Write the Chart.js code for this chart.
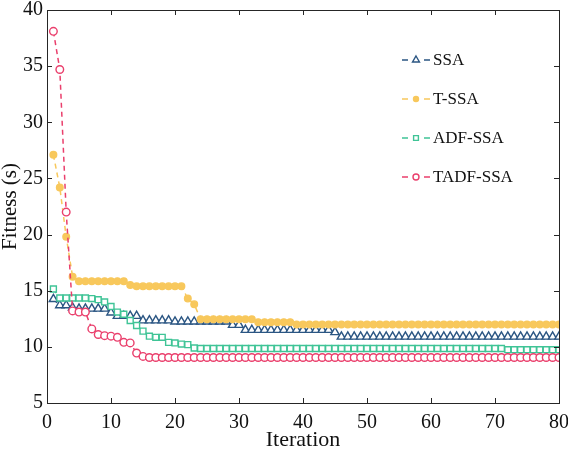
<!DOCTYPE html>
<html>
<head>
<meta charset="utf-8">
<script src="https://cdn.jsdelivr.net/npm/chart.js@4"></script>
<style>
  body { margin: 0; background: #fff; }
  #wrap { width: 568px; height: 452px; }
</style>
</head>
<body>
<div id="wrap"><canvas id="myChart" width="568" height="452"></canvas></div>
<script>
// iterations 1..80
var iterations = [];
for (var i = 1; i <= 80; i++) iterations.push(i);

var seriesNames = ['SSA', 'T-SSA', 'ADF-SSA', 'TADF-SSA'];

var ssa = [14.25,13.7,13.7,13.5,13.4,13.4,13.4,13.4,13.4,13.05,
  12.75,12.75,12.75,12.75,12.35,12.35,12.35,12.35,12.35,12.25,
  12.25,12.25,12.25,12.25,12.25,12.25,12.25,12.25,11.95,11.95,
  11.5,11.5,11.5,11.5,11.5,11.5,11.5,11.5,11.5,11.5,
  11.5,11.5,11.5,11.5,11.3,10.9,10.9,10.9,10.9,10.9,
  10.9,10.9,10.9,10.9,10.9,10.9,10.9,10.9,10.9,10.9,
  10.9,10.9,10.9,10.9,10.9,10.9,10.9,10.9,10.9,10.9,
  10.9,10.9,10.9,10.9,10.9,10.9,10.9,10.9,10.9,10.9];

var tssa = [27.1,24.2,19.8,16.25,15.85,15.85,15.85,15.85,15.85,15.85,
  15.85,15.85,15.5,15.4,15.4,15.4,15.4,15.4,15.4,15.4,
  15.4,14.3,13.8,12.45,12.45,12.45,12.45,12.45,12.45,12.45,
  12.45,12.45,12.2,12.2,12.2,12.2,12.2,12.2,12.0,12.0,
  12.0,12.0,12.0,12.0,12.0,12.0,12.0,12.0,12.0,12.0,
  12.0,12.0,12.0,12.0,12.0,12.0,12.0,12.0,12.0,12.0,
  12.0,12.0,12.0,12.0,12.0,12.0,12.0,12.0,12.0,12.0,
  12.0,12.0,12.0,12.0,12.0,12.0,12.0,12.0,12.0,12.0];

var adfssa = [15.15,14.35,14.35,14.35,14.35,14.35,14.3,14.2,14.0,13.6,
  13.1,12.9,12.35,11.9,11.4,10.95,10.85,10.85,10.4,10.35,
  10.25,10.2,9.9,9.85,9.85,9.85,9.85,9.85,9.85,9.85,
  9.85,9.85,9.85,9.85,9.85,9.85,9.85,9.85,9.85,9.85,
  9.85,9.85,9.85,9.85,9.85,9.85,9.85,9.85,9.85,9.85,
  9.85,9.85,9.85,9.85,9.85,9.85,9.85,9.85,9.85,9.85,
  9.85,9.85,9.85,9.85,9.85,9.85,9.85,9.85,9.85,9.85,
  9.85,9.75,9.75,9.75,9.75,9.75,9.75,9.75,9.75,9.75];

var tadfssa = [38.1,34.7,22.0,13.2,13.1,13.1,11.6,11.1,11.0,10.95,
  10.85,10.4,10.35,9.45,9.15,9.05,9.05,9.05,9.05,9.05,
  9.05,9.05,9.05,9.05,9.05,9.05,9.05,9.05,9.05,9.05,
  9.05,9.05,9.05,9.05,9.05,9.05,9.05,9.05,9.05,9.05,
  9.05,9.05,9.05,9.05,9.05,9.05,9.05,9.05,9.05,9.05,
  9.05,9.05,9.05,9.05,9.05,9.05,9.05,9.05,9.05,9.05,
  9.05,9.05,9.05,9.05,9.05,9.05,9.05,9.05,9.05,9.05,
  9.05,9.05,9.05,9.05,9.05,9.05,9.05,9.05,9.05,9.05];

var xTicks = [0,10,20,30,40,50,60,70,80];
var yTicks = [5,10,15,20,25,30,35,40];

var serif = "'Liberation Serif', 'Times New Roman', serif";
var axisColor = '#262626';

function pts(vals){
  return vals.map(function(v, k){ return {x: iterations[k], y: v}; });
}

function makeSet(label, vals, color, style, fill, radius, order){
  return {
    label: label,
    data: pts(vals),
    borderColor: color,
    backgroundColor: color,
    borderWidth: 1.5,
    borderDash: [5,4],
    pointStyle: style,
    pointRadius: radius,
    pointBackgroundColor: fill,
    pointBorderColor: color,
    pointBorderWidth: 1.4,
    fill: false,
    tension: 0,
    order: order
  };
}

// box, inward ticks and legend
var frame = {
  id: 'frame',
  afterDraw: function(chart){
    var ctx = chart.ctx;
    var a = chart.chartArea;
    var xs = chart.scales.x, ys = chart.scales.y;
    ctx.save();
    ctx.strokeStyle = axisColor;
    ctx.lineWidth = 1;
    ctx.strokeRect(a.left + 0.5, a.top + 0.5, a.right - a.left, a.bottom - a.top);
    ctx.beginPath();
    xTicks.forEach(function(t){
      var px = Math.round(xs.getPixelForValue(t)) + 0.5;
      ctx.moveTo(px, a.bottom); ctx.lineTo(px, a.bottom - 5);
      ctx.moveTo(px, a.top); ctx.lineTo(px, a.top + 5);
    });
    yTicks.forEach(function(t){
      var py = Math.round(ys.getPixelForValue(t)) + 0.5;
      ctx.moveTo(a.left, py); ctx.lineTo(a.left + 5, py);
      ctx.moveTo(a.right, py); ctx.lineTo(a.right - 5, py);
    });
    ctx.stroke();

    // legend
    var lx = 402, ly = 60, gap = 39;
    chart.data.datasets.forEach(function(ds, k){
      var y = ly + k * gap;
      ctx.strokeStyle = ds.borderColor;
      ctx.lineWidth = 1.5;
      ctx.setLineDash([]);
      ctx.beginPath();
      ctx.moveTo(lx, y); ctx.lineTo(lx + 6, y);
      ctx.moveTo(lx + 22, y); ctx.lineTo(lx + 28, y);
      ctx.stroke();
      ctx.fillStyle = ds.pointBackgroundColor;
      ctx.strokeStyle = ds.pointBorderColor;
      ctx.lineWidth = ds.pointBorderWidth;
      Chart.helpers.drawPoint(ctx, {
        pointStyle: ds.pointStyle, radius: ds.pointRadius - 0.8, rotation: 0,
        borderWidth: ds.pointBorderWidth
      }, lx + 14, y);
      ctx.fillStyle = '#111';
      ctx.font = '17px ' + serif;
      ctx.textAlign = 'left';
      ctx.textBaseline = 'middle';
      ctx.fillText(ds.label, lx + 31, y + 1);
    });
    ctx.restore();
  }
};

var config = {
  type: 'line',
  data: {
    datasets: [
      makeSet(seriesNames[0], ssa, '#2b5683', 'triangle', '#ffffff', 4.8, 3),
      makeSet(seriesNames[1], tssa, '#f8c85c', 'circle', '#f8c85c', 3.3, 2),
      makeSet(seriesNames[2], adfssa, '#3fc496', 'rect', '#ffffff', 4.2, 1),
      makeSet(seriesNames[3], tadfssa, '#ea3f6c', 'circle', '#ffffff', 3.8, 0)
    ]
  },
  options: {
    responsive: false,
    animation: false,
    layout: { padding: { top: 10, right: 9, left: 0, bottom: 0 } },
    plugins: {
      legend: { display: false },
      tooltip: { enabled: false }
    },
    scales: {
      x: {
        type: 'linear',
        min: 0, max: 80,
        afterBuildTicks: function(s){ s.ticks = xTicks.map(function(v){ return {value: v}; }); },
        afterFit: function(s){ s.height = 49; s.paddingLeft = 0; s.paddingRight = 0; },
        grid: { display: true, drawOnChartArea: false, drawTicks: true, tickLength: 8, color: 'rgba(0,0,0,0)' },
        border: { display: false },
        ticks: { color: '#111', font: { family: serif, size: 20 }, padding: 0, maxRotation: 0 },
        title: { display: true, text: 'Iteration', color: '#111', font: { family: serif, size: 22, lineHeight: 1 }, padding: { top: 0, bottom: 1 } }
      },
      y: {
        min: 5, max: 40,
        afterBuildTicks: function(s){ s.ticks = yTicks.map(function(v){ return {value: v}; }); },
        afterFit: function(s){ s.width = 47; s.paddingTop = 0; s.paddingBottom = 0; },
        grid: { display: false, drawTicks: false },
        border: { display: false },
        ticks: { color: '#111', font: { family: serif, size: 20 }, padding: 4 },
        title: { display: true, text: 'Fitness (s)', color: '#111', font: { family: serif, size: 21, lineHeight: 1 }, padding: { top: 0, bottom: 0 } }
      }
    }
  },
  plugins: [frame]
};

var myChart = new Chart(document.getElementById('myChart'), config);
</script>
</body>
</html>
